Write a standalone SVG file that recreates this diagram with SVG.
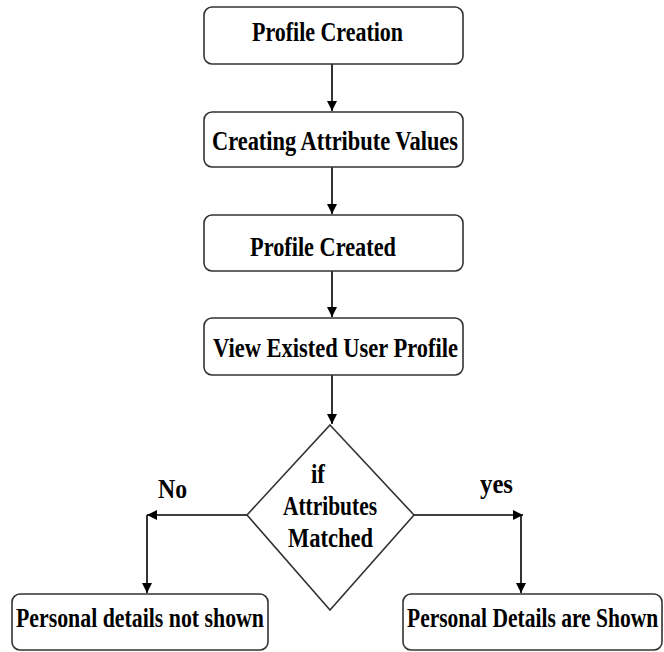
<svg xmlns="http://www.w3.org/2000/svg" width="664" height="652" viewBox="0 0 664 652">
<style>
.box{fill:#fff;stroke:#333;stroke-width:1.6}
.t{font-family:"Liberation Serif","Times New Roman",serif;font-weight:bold;font-size:27px;fill:#000}
.c{fill:none;stroke:#000;stroke-width:1.6}
</style>
<defs>
<marker id="ah" viewBox="0 0 10 10" refX="10" refY="5" markerWidth="10" markerHeight="10" markerUnits="userSpaceOnUse" orient="auto">
<path d="M0,0 L10,5 L0,10 Z" fill="#000"/>
</marker>
</defs>
<rect width="664" height="652" fill="#fff"/>
<g id="connectors">
<line class="c" x1="332" y1="64" x2="332" y2="111" marker-end="url(#ah)"/>
<line class="c" x1="332" y1="167" x2="332" y2="214" marker-end="url(#ah)"/>
<line class="c" x1="332" y1="271" x2="332" y2="317" marker-end="url(#ah)"/>
<line class="c" x1="332" y1="375" x2="332" y2="424" marker-end="url(#ah)"/>
<polyline class="c" points="247,515 147,515" marker-end="url(#ah)"/>
<polyline class="c" points="147,515 147,593" marker-end="url(#ah)"/>
<polyline class="c" points="414,515 523,515" marker-end="url(#ah)"/>
<polyline class="c" points="521,515 521,593" marker-end="url(#ah)"/>
<text class="t" x="158" y="498" textLength="29" lengthAdjust="spacingAndGlyphs">No</text>
<text class="t" x="480" y="493" textLength="33" lengthAdjust="spacingAndGlyphs">yes</text>
</g>
<g id="n1">
<rect class="box" x="204" y="7" width="259" height="57" rx="8"/>
<text class="t" x="252" y="41" textLength="151" lengthAdjust="spacingAndGlyphs">Profile Creation</text>
</g>
<g id="n2">
<rect class="box" x="204" y="112" width="259" height="55" rx="8"/>
<text class="t" x="212" y="150" textLength="246" lengthAdjust="spacingAndGlyphs">Creating Attribute Values</text>
</g>
<g id="n3">
<rect class="box" x="204" y="215" width="259" height="56" rx="8"/>
<text class="t" x="250" y="256" textLength="146" lengthAdjust="spacingAndGlyphs">Profile Created</text>
</g>
<g id="n4">
<rect class="box" x="204" y="318" width="259" height="57" rx="8"/>
<text class="t" x="213" y="357" textLength="245" lengthAdjust="spacingAndGlyphs">View Existed User Profile</text>
</g>
<g id="n5">
<polygon class="box" points="330,425 414,515 330,610 247,515"/>
<text class="t" x="311" y="483" textLength="14" lengthAdjust="spacingAndGlyphs">if</text>
<text class="t" x="283" y="515" textLength="94" lengthAdjust="spacingAndGlyphs">Attributes</text>
<text class="t" x="288" y="547" textLength="85" lengthAdjust="spacingAndGlyphs">Matched</text>
</g>
<g id="n6">
<rect class="box" x="12" y="594" width="256" height="56" rx="8"/>
<text class="t" transform="translate(16,627) scale(0.8,1)" x="0" y="0" textLength="310" lengthAdjust="spacingAndGlyphs">Personal details not shown</text>
</g>
<g id="n7">
<rect class="box" x="403" y="594" width="259" height="56" rx="8"/>
<text class="t" transform="translate(407,627) scale(0.8,1)" x="0" y="0" textLength="314" lengthAdjust="spacingAndGlyphs">Personal Details are Shown</text>
</g>
</svg>
